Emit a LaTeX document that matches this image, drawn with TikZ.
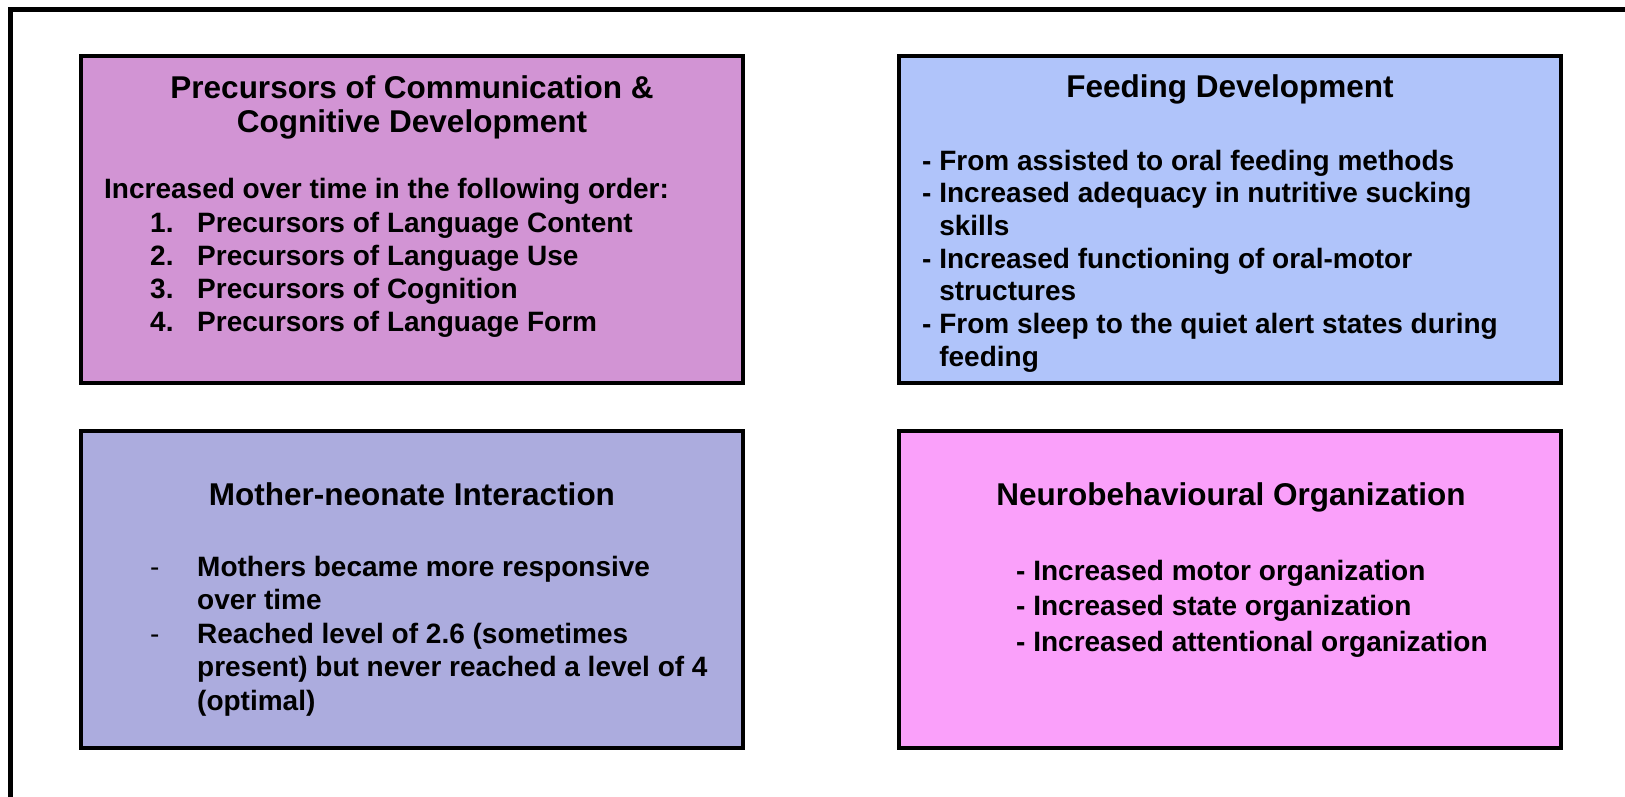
\documentclass[tikz,border=0pt]{standalone}
\usepackage{fontspec}
\setmainfont{Liberation Sans}
\definecolor{precfill}{RGB}{210,148,212}
\definecolor{feedfill}{RGB}{176,196,250}
\definecolor{mothfill}{RGB}{172,172,222}
\definecolor{neurfill}{RGB}{250,160,250}
\tikzset{
  panel/.style={draw=black,line width=4pt,rectangle,inner sep=0pt,minimum width=662pt},
  head/.style={font=\fontsize{31.5}{36}\selectfont\bfseries,inner sep=0pt,anchor=base},
  body/.style={font=\fontsize{28}{33}\selectfont\bfseries,inner sep=0pt,anchor=base west},
}
\begin{document}
\begin{tikzpicture}[x=1pt,y=-1pt]
\useasboundingbox (0,0) rectangle (1625,797);
% outer frame
\draw[line width=5pt](10.5,797)--(10.5,9.5)--(1625,9.5);
% the four panels
\node[panel,fill=precfill,minimum height=327pt](prec) at (412,219.5){};
\node[panel,fill=feedfill,minimum height=327pt](feed) at (1230,219.5){};
\node[panel,fill=mothfill,minimum height=317pt](moth) at (412,589.5){};
\node[panel,fill=neurfill,minimum height=317pt](neur) at (1230,589.5){};
% precursors
\node[head](prechead1) at (412,99){Precursors of Communication \&};
\node[head](prechead2) at (412,132){Cognitive Development};
\node[body](precintro) at (104,198){Increased over time in the following order:};
\foreach \n/\txt in {1/Language Content,2/Language Use,3/Cognition,4/Language Form}{
  \node[body](precnum\n) at (150,{232+33*(\n-1)}){\n.};
  \node[body](precitem\n) at (197,{232+33*(\n-1)}){Precursors of \txt};
}
% feeding
\node[head](feedhead) at (1230,98){Feeding Development};
\foreach \txt [count=\i] in {- From assisted to oral feeding methods,
  - Increased adequacy in nutritive sucking,\phantom{- }skills,
  - Increased functioning of oral-motor,\phantom{- }structures,
  - From sleep to the quiet alert states during,\phantom{- }feeding}
  \node[body](feedline\i) at (922,{170+32.7*(\i-1)}){\txt};
% mother-neonate
\node[head](mothhead) at (412,505){Mother-neonate Interaction};
\node[body,font=\fontsize{28}{33}\selectfont](mothdash1) at (150,576){-};
\node[body,font=\fontsize{28}{33}\selectfont](mothdash2) at (150,643){-};
\foreach \txt [count=\i] in {Mothers became more responsive,over time,
  Reached level of 2.6 (sometimes,present) but never reached a level of 4,(optimal)}
  \node[body](mothline\i) at (197,{576+33.5*(\i-1)}){\txt};
% neurobehavioural
\node[head](neurhead) at (1231,505){Neurobehavioural Organization};
\foreach \txt [count=\i] in {motor,state,attentional}
  \node[body](neurline\i) at (1016,{580+35.5*(\i-1)}){- Increased \txt\ organization};
\end{tikzpicture}
\end{document}
